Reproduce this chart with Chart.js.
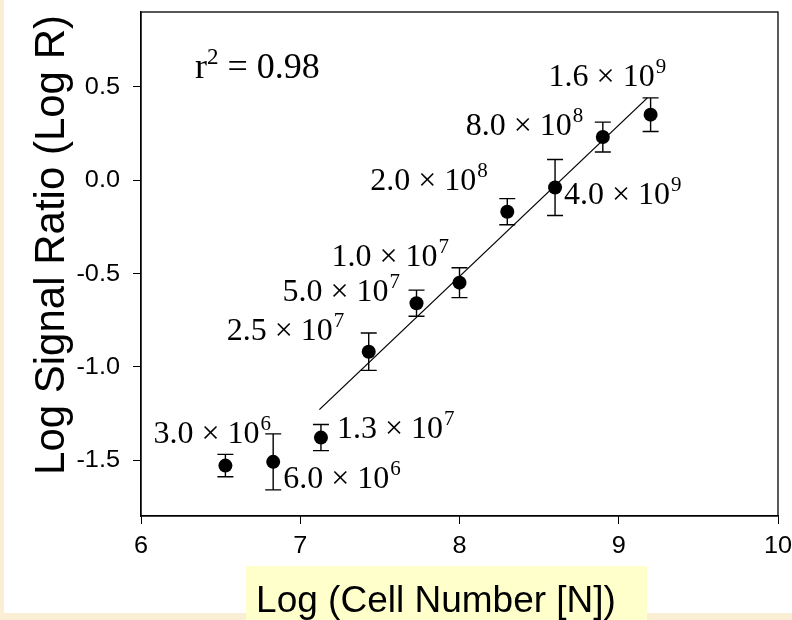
<!DOCTYPE html>
<html>
<head>
<meta charset="utf-8">
<title>Log signal ratio vs log cell number</title>
<script src="https://cdn.jsdelivr.net/npm/chart.js@4.4.1/dist/chart.umd.min.js"></script>
<style>
  html, body { margin: 0; padding: 0; background: #faeed5; }
  #wrap { width: 792px; height: 620px; }
</style>
</head>
<body>
<div id="wrap"><canvas id="ratioChart" width="792" height="620"></canvas></div>
<script>
const logCells = [6.53, 6.83, 7.13, 7.43, 7.73, 8.00, 8.30, 8.60, 8.90, 9.20];
const logRatio = [-1.53, -1.51, -1.38, -0.92, -0.66, -0.55, -0.17, -0.04, 0.23, 0.35];
const errSize = [0.06, 0.15, 0.07, 0.10, 0.07, 0.08, 0.07, 0.15, 0.08, 0.09];
// cell count for each point, written as mantissa x 10^exponent
const countMantissa = ['3.0', '6.0', '1.3', '2.5', '5.0', '1.0', '2.0', '4.0', '8.0', '1.6'];
const countExponent = [6, 6, 7, 7, 7, 7, 8, 9, 8, 9];
// linear fit end points
const fitX = [7.12, 9.18];
const fitY = [-1.23, 0.44];
const rSquared = '0.98';
const xTicks = [6, 7, 8, 9, 10];
const yTicks = [-1.5, -1.0, -0.5, 0.0, 0.5];

// pixel offset of each count label from its point (left edge, baseline)
const labelOffsets = [
    [-72, -23], [10, 26], [16, 0], [-142, -12], [-134, -2],
    [-128, -17], [-137, -22], [9, 17], [-137, -2], [-102, -29]
];

function drawSci(ctx, x, y, mant, exp) {
    ctx.font = '32px "Liberation Serif"';
    const base = mant + ' \u00d7 10';
    ctx.fillText(base, x, y);
    const w = ctx.measureText(base).width;
    ctx.font = '21px "Liberation Serif"';
    ctx.fillText(String(exp), x + w + 1, y - 13);
}

// the original's sans text is a little wide, so tick labels get a horizontal stretch
function drawWide(ctx, text, x, y, align) {
    ctx.save();
    ctx.translate(x, y);
    ctx.scale(1.1, 1);
    ctx.textAlign = align;
    ctx.textBaseline = 'middle';
    ctx.fillText(text, 0, 0);
    ctx.restore();
}

const figurePlugin = {
    id: 'figure',
    beforeDraw(chart) {
        const ctx = chart.ctx;
        ctx.save();
        ctx.fillStyle = '#faeed5';
        ctx.fillRect(0, 0, chart.width, chart.height);
        ctx.fillStyle = '#ffffff';
        ctx.fillRect(4, 0, chart.width - 4, 613);
        ctx.fillStyle = '#ffffcc';
        ctx.fillRect(246, 566, 401, 54);
        ctx.restore();
    },
    afterDatasetsDraw(chart) {
        const ctx = chart.ctx;
        const xs = chart.scales.x, ys = chart.scales.y;
        ctx.save();
        ctx.strokeStyle = '#000';
        ctx.lineWidth = 1.4;
        // error bars
        logCells.forEach((x, i) => {
            const px = xs.getPixelForValue(x);
            const top = ys.getPixelForValue(logRatio[i] + errSize[i]);
            const bot = ys.getPixelForValue(logRatio[i] - errSize[i]);
            ctx.beginPath();
            ctx.moveTo(px, top); ctx.lineTo(px, bot);
            ctx.moveTo(px - 8, top); ctx.lineTo(px + 8, top);
            ctx.moveTo(px - 8, bot); ctx.lineTo(px + 8, bot);
            ctx.stroke();
        });
        // box round the plot
        const a = chart.chartArea;
        ctx.lineWidth = 1.3;
        ctx.strokeRect(a.left, a.top, a.right - a.left, a.bottom - a.top);
        ctx.fillStyle = '#000';
        // tick labels
        ctx.font = '23px "Liberation Sans"';
        xTicks.forEach(v => drawWide(ctx, String(v), xs.getPixelForValue(v), a.bottom + 31, 'center'));
        yTicks.forEach(v => drawWide(ctx, v.toFixed(1), a.left - 21, ys.getPixelForValue(v) + 1, 'right'));
        // count labels
        ctx.textBaseline = 'alphabetic';
        ctx.textAlign = 'left';
        logCells.forEach((x, i) => {
            const px = xs.getPixelForValue(x) + labelOffsets[i][0];
            const py = ys.getPixelForValue(logRatio[i]) + labelOffsets[i][1];
            drawSci(ctx, px, py, countMantissa[i], countExponent[i]);
        });
        // r squared
        let rx = a.left + 54, ry = a.top + 66;
        ctx.font = '36px "Liberation Serif"';
        ctx.fillText('r', rx, ry);
        rx += ctx.measureText('r').width;
        ctx.font = '23px "Liberation Serif"';
        ctx.fillText('2', rx, ry - 14);
        rx += ctx.measureText('2').width;
        ctx.font = '36px "Liberation Serif"';
        ctx.fillText(' = ' + rSquared, rx, ry);
        // axis titles
        ctx.font = '37px "Liberation Sans"';
        ctx.textAlign = 'center';
        ctx.fillText('Log (Cell Number [N])', 436, 612);
        ctx.translate(64, 245);
        ctx.rotate(-Math.PI / 2);
        ctx.font = '42px "Liberation Sans"';
        ctx.fillText('Log Signal Ratio (Log R)', 0, 0);
        ctx.restore();
    }
};

new Chart(document.getElementById('ratioChart').getContext('2d'), {
    type: 'scatter',
    data: {
        datasets: [{
            data: logCells.map((x, i) => ({ x: x, y: logRatio[i] })),
            pointRadius: 7,
            pointHoverRadius: 7,
            backgroundColor: '#000',
            borderColor: '#000',
            borderWidth: 0
        }, {
            type: 'line',
            data: fitX.map((x, i) => ({ x: x, y: fitY[i] })),
            borderColor: '#000',
            borderWidth: 1.3,
            pointRadius: 0,
            fill: false
        }]
    },
    options: {
        responsive: false,
        animation: false,
        layout: { padding: { left: 0, top: 12, right: 14, bottom: 0 } },
        plugins: {
            legend: { display: false },
            tooltip: { enabled: false }
        },
        scales: {
            x: {
                type: 'linear',
                min: 6,
                max: 10,
                afterBuildTicks: s => { s.ticks = xTicks.map(v => ({ value: v })); },
                afterFit: s => { s.height = 104; },
                ticks: { display: false },
                grid: { drawOnChartArea: false, color: '#000', tickLength: 8, tickColor: '#000' },
                border: { color: '#000', width: 1.3 }
            },
            y: {
                type: 'linear',
                min: -1.8,
                max: 0.9,
                afterBuildTicks: s => { s.ticks = yTicks.map(v => ({ value: v })); },
                afterFit: s => { s.width = 141; },
                ticks: { display: false },
                grid: { drawOnChartArea: false, color: '#000', tickLength: 8, tickColor: '#000' },
                border: { color: '#000', width: 1.3 }
            }
        }
    },
    plugins: [figurePlugin]
});
</script>
</body>
</html>
